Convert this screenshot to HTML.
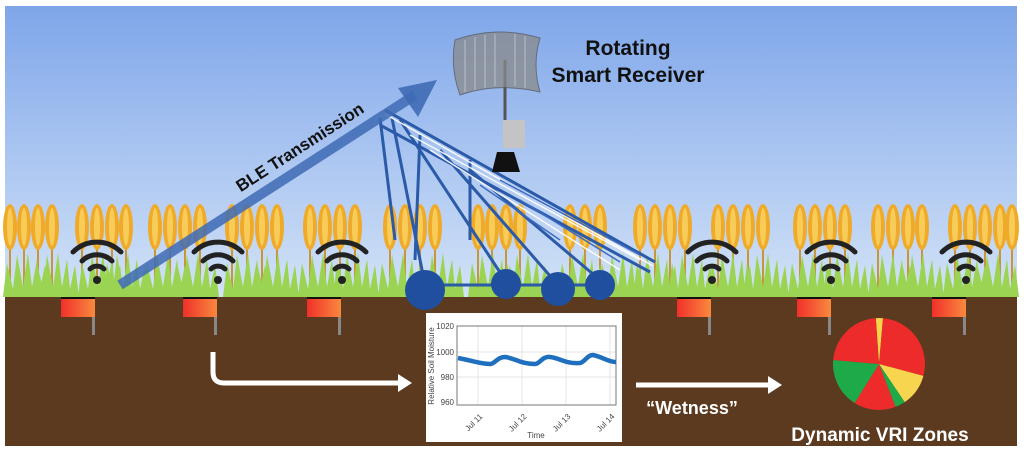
<!DOCTYPE html>
<html><head><meta charset="utf-8"><style>
body{margin:0;background:#fff;}
svg{display:block;font-family:"Liberation Sans",sans-serif;}
</style></head><body>
<svg width="1024" height="454" viewBox="0 0 1024 454" xmlns="http://www.w3.org/2000/svg">
<defs>
<linearGradient id="sky" x1="0" y1="0" x2="0" y2="1">
<stop offset="0" stop-color="#7fa6ea"/><stop offset="1" stop-color="#d3e3f7"/></linearGradient>
<linearGradient id="sen" x1="0" y1="0" x2="1" y2="0">
<stop offset="0" stop-color="#f0302a"/><stop offset="1" stop-color="#f9893e"/></linearGradient>
<g id="wheat">
<line x1="0" y1="0" x2="0" y2="-88" stroke="#c8963a" stroke-width="2"/>
<ellipse cx="0" cy="-70" rx="7" ry="23" fill="#f0aa2a"/>
<ellipse cx="0" cy="-70" rx="3" ry="19" fill="#f8cc58"/>
</g>
<g id="grass">
<path d="M-22 0 L-18 -34 L-12 -8 L-8 -42 L-2 -10 L3 -44 L7 -10 L12 -38 L15 -8 L20 -32 L24 0Z" fill="#9bd452"/>
</g>
<g id="wifi" fill="none" stroke="#222" stroke-width="5" stroke-linecap="round">
<path d="M-24 -20 A34 34 0 0 1 24 -20"/>
<path d="M-15 -11 A21 21 0 0 1 15 -11"/>
<path d="M-7 -3 A10 10 0 0 1 7 -3"/>
<circle cx="0" cy="8" r="4" fill="#222" stroke="none"/>
</g>
<g id="sensor">
<rect x="0" y="0" width="34" height="20" fill="url(#sen)"/>
<rect x="0" y="0" width="34" height="2" fill="#111"/>
<rect x="31" y="20" width="3" height="18" fill="#888"/>
</g>
</defs>
<rect x="5" y="6" width="1012" height="292" fill="url(#sky)"/>
<rect x="5" y="297" width="1012" height="149" fill="#5c3a1f"/>
<g>
<use href="#wheat" x="10" y="297"/><use href="#wheat" x="24" y="297"/><use href="#wheat" x="38" y="297"/><use href="#wheat" x="52" y="297"/>
<use href="#wheat" x="82" y="297"/><use href="#wheat" x="97" y="297"/><use href="#wheat" x="112" y="297"/><use href="#wheat" x="126" y="297"/>
<use href="#wheat" x="155" y="297"/><use href="#wheat" x="170" y="297"/><use href="#wheat" x="185" y="297"/><use href="#wheat" x="200" y="297"/>
<use href="#wheat" x="232" y="297"/><use href="#wheat" x="247" y="297"/><use href="#wheat" x="262" y="297"/><use href="#wheat" x="277" y="297"/>
<use href="#wheat" x="310" y="297"/><use href="#wheat" x="325" y="297"/><use href="#wheat" x="340" y="297"/><use href="#wheat" x="355" y="297"/>
<use href="#wheat" x="390" y="297"/><use href="#wheat" x="405" y="297"/><use href="#wheat" x="420" y="297"/><use href="#wheat" x="435" y="297"/>
<use href="#wheat" x="478" y="297"/><use href="#wheat" x="492" y="297"/><use href="#wheat" x="506" y="297"/><use href="#wheat" x="520" y="297"/>
<use href="#wheat" x="570" y="297"/><use href="#wheat" x="585" y="297"/><use href="#wheat" x="600" y="297"/>
<use href="#wheat" x="640" y="297"/><use href="#wheat" x="655" y="297"/><use href="#wheat" x="670" y="297"/><use href="#wheat" x="685" y="297"/>
<use href="#wheat" x="718" y="297"/><use href="#wheat" x="733" y="297"/><use href="#wheat" x="748" y="297"/><use href="#wheat" x="763" y="297"/>
<use href="#wheat" x="800" y="297"/><use href="#wheat" x="815" y="297"/><use href="#wheat" x="830" y="297"/><use href="#wheat" x="845" y="297"/>
<use href="#wheat" x="878" y="297"/><use href="#wheat" x="893" y="297"/><use href="#wheat" x="908" y="297"/><use href="#wheat" x="922" y="297"/>
<use href="#wheat" x="955" y="297"/><use href="#wheat" x="970" y="297"/><use href="#wheat" x="985" y="297"/><use href="#wheat" x="1000" y="297"/><use href="#wheat" x="1012" y="297"/>
</g>
<g>
<use href="#grass" x="25" y="297"/><use href="#grass" x="55" y="297"/><use href="#grass" x="100" y="297"/><use href="#grass" x="125" y="297"/>
<use href="#grass" x="165" y="297"/><use href="#grass" x="195" y="297"/><use href="#grass" x="245" y="297"/><use href="#grass" x="275" y="297"/>
<use href="#grass" x="320" y="297"/><use href="#grass" x="355" y="297"/><use href="#grass" x="400" y="297"/><use href="#grass" x="440" y="297"/>
<use href="#grass" x="490" y="297"/><use href="#grass" x="525" y="297"/><use href="#grass" x="580" y="297"/><use href="#grass" x="620" y="297"/>
<use href="#grass" x="655" y="297"/><use href="#grass" x="690" y="297"/><use href="#grass" x="730" y="297"/><use href="#grass" x="765" y="297"/>
<use href="#grass" x="810" y="297"/><use href="#grass" x="845" y="297"/><use href="#grass" x="890" y="297"/><use href="#grass" x="920" y="297"/>
<use href="#grass" x="965" y="297"/><use href="#grass" x="995" y="297"/>
</g>
<g stroke="#2a5aa8" stroke-width="3" fill="none">
<line x1="385" y1="110" x2="655" y2="262"/>
<line x1="380" y1="125" x2="650" y2="272"/>
<line x1="392" y1="118" x2="425" y2="285"/>
<line x1="400" y1="120" x2="505" y2="280"/>
<line x1="440" y1="150" x2="558" y2="285"/>
<line x1="470" y1="170" x2="600" y2="280"/>
<line x1="420" y1="135" x2="415" y2="260"/>
<line x1="470" y1="160" x2="470" y2="240"/>
<line x1="425" y1="285" x2="610" y2="285"/>
<line x1="380" y1="118" x2="395" y2="240"/>
</g>
<g stroke="#ffffff" stroke-width="1.5" fill="none" opacity=".9">
<line x1="385" y1="114" x2="653" y2="266"/>
<line x1="410" y1="135" x2="640" y2="260"/>
<line x1="430" y1="150" x2="620" y2="270"/>
</g>
<g stroke="#3d6bc0" stroke-width="1.5">
<line x1="500" y1="180" x2="640" y2="255"/>
<line x1="520" y1="200" x2="620" y2="262"/>
<line x1="480" y1="185" x2="560" y2="240"/>
</g>
<circle cx="425" cy="290" r="20" fill="#1f4f9e"/>
<circle cx="506" cy="284" r="15" fill="#1f4f9e"/>
<circle cx="558" cy="289" r="17" fill="#1f4f9e"/>
<circle cx="600" cy="285" r="15" fill="#1f4f9e"/>
<line x1="505" y1="60" x2="505" y2="125" stroke="#555" stroke-width="3"/>
<path d="M455 40 Q497 25 540 38 Q532 65 540 92 Q497 82 460 95 Q450 68 455 40Z" fill="#8a8a8a" opacity=".75" stroke="#555"/>
<g stroke="#ddd" stroke-width="1" opacity=".6">
<line x1="465" y1="40" x2="465" y2="92"/><line x1="475" y1="37" x2="475" y2="90"/><line x1="485" y1="35" x2="485" y2="88"/><line x1="495" y1="34" x2="495" y2="86"/><line x1="515" y1="34" x2="515" y2="86"/><line x1="525" y1="36" x2="525" y2="88"/>
</g>
<rect x="503" y="120" width="22" height="28" fill="#c4c4c4"/>
<path d="M497 152 L514 152 L520 172 L492 172Z" fill="#111"/>
<line x1="120" y1="285" x2="415" y2="95" stroke="#3f6bb5" stroke-width="10" opacity=".85"/>
<path d="M437 80 L398 88 L418 117Z" fill="#3f6bb5" opacity=".9"/>
<text x="0" y="0" transform="translate(303,152) rotate(-33)" font-size="17" font-weight="bold" fill="#111" text-anchor="middle">BLE Transmission</text>
<text x="628" y="55" font-size="21" font-weight="bold" fill="#111" text-anchor="middle">Rotating</text>
<text x="628" y="82" font-size="21" font-weight="bold" fill="#111" text-anchor="middle">Smart Receiver</text>
<use href="#wifi" x="97" y="272"/><use href="#wifi" x="218" y="272"/><use href="#wifi" x="342" y="272"/>
<use href="#wifi" x="712" y="272"/><use href="#wifi" x="831" y="272"/><use href="#wifi" x="966" y="272"/>
<use href="#sensor" x="61" y="297"/><use href="#sensor" x="183" y="297"/><use href="#sensor" x="307" y="297"/>
<use href="#sensor" x="677" y="297"/><use href="#sensor" x="797" y="297"/><use href="#sensor" x="932" y="297"/>
<path d="M213 352 L213 372 Q213 383 224 383 L400 383" stroke="#fff" stroke-width="5" fill="none"/>
<path d="M398 374 L412 383 L398 392Z" fill="#fff"/>
<line x1="636" y1="385" x2="770" y2="385" stroke="#fff" stroke-width="5"/>
<path d="M768 376 L782 385 L768 394Z" fill="#fff"/>
<text x="692" y="414" font-size="18" font-weight="bold" fill="#fff" text-anchor="middle">“Wetness”</text>
<rect x="426" y="313" width="196" height="129" fill="#fff"/>
<g stroke="#e4e4e4" stroke-width="1">
<line x1="457" y1="326" x2="616" y2="326"/><line x1="457" y1="352" x2="616" y2="352"/><line x1="457" y1="377" x2="616" y2="377"/>
<line x1="478" y1="326" x2="478" y2="405"/><line x1="522" y1="326" x2="522" y2="405"/><line x1="566" y1="326" x2="566" y2="405"/><line x1="610" y1="326" x2="610" y2="405"/>
</g>
<rect x="457" y="326" width="159" height="79" fill="none" stroke="#777" stroke-width="1"/>
<g font-size="8" fill="#444" text-anchor="end">
<text x="454" y="329">1020</text><text x="454" y="355">1000</text><text x="454" y="380">980</text><text x="454" y="405">960</text>
</g>
<text transform="translate(434,366) rotate(-90)" font-size="8" fill="#444" text-anchor="middle">Relative Soil Moisture</text>
<g font-size="8" fill="#444" text-anchor="end">
<text transform="translate(483,417) rotate(-45)">Jul 11</text>
<text transform="translate(527,417) rotate(-45)">Jul 12</text>
<text transform="translate(571,417) rotate(-45)">Jul 13</text>
<text transform="translate(615,417) rotate(-45)">Jul 14</text>
</g>
<text x="536" y="438" font-size="8" fill="#444" text-anchor="middle">Time</text>
<path d="M458 358 C470 360 480 364 490 364 C495 364 497 357 505 357 C515 358 520 364 535 364 C540 364 542 356 550 357 C560 358 565 364 580 363 C585 362 587 355 593 355 C603 357 608 362 616 362" stroke="#1f6fbf" stroke-width="4.5" fill="none"/>
<g transform="translate(879,364)">
<path d="M0 0 L-3.2 -45.9 A46 46 0 0 1 4 -45.8Z" fill="#f5d34a"/>
<path d="M0 0 L4 -45.8 A46 46 0 0 1 44.4 11.9Z" fill="#ee2b2b"/>
<path d="M0 0 L44.4 11.9 A46 46 0 0 1 25.7 38.1Z" fill="#f7d54e"/>
<path d="M0 0 L25.7 38.1 A46 46 0 0 1 16.5 42.9Z" fill="#1faa4a"/>
<path d="M0 0 L16.5 42.9 A46 46 0 0 1 -24.4 39Z" fill="#ee2b2b"/>
<path d="M0 0 L-24.4 39 A46 46 0 0 1 -45.8 -4Z" fill="#1faa4a"/>
<path d="M0 0 L-45.8 -4 A46 46 0 0 1 -3.2 -45.9Z" fill="#ee2b2b"/>
</g>
<text x="880" y="441" font-size="19" font-weight="bold" fill="#fff" text-anchor="middle">Dynamic VRI Zones</text>
</svg>
</body></html>
